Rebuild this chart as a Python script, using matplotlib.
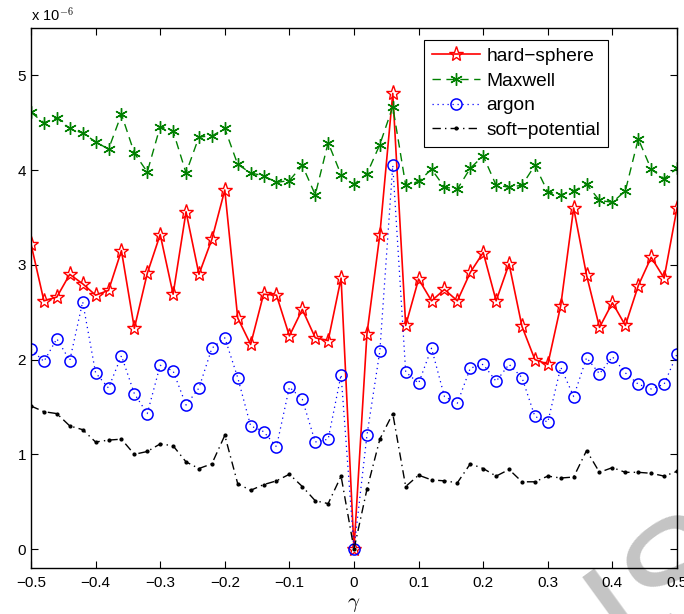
import matplotlib
matplotlib.use("Agg")
import matplotlib.pyplot as plt
import numpy as np

# collision parameter gamma, step 0.02
gamma = np.round(np.arange(-0.5, 0.5001, 0.02), 2)

# errors in units of 1e-6
hard_sphere = [3.22, 2.62, 2.66, 2.90, 2.80, 2.68, 2.73, 3.15, 2.33, 2.91,
               3.32, 2.69, 3.56, 2.90, 3.27, 3.79, 2.44, 2.16, 2.69, 2.68,
               2.25, 2.53, 2.23, 2.20, 2.86, 0.00, 2.27, 3.32, 4.81, 2.36,
               2.85, 2.62, 2.74, 2.62, 2.92, 3.13, 2.62, 3.01, 2.35, 2.00,
               1.95, 2.57, 3.60, 2.89, 2.34, 2.60, 2.36, 2.78, 3.08, 2.86,
               3.60]
maxwell = [4.61, 4.50, 4.55, 4.44, 4.39, 4.30, 4.22, 4.59, 4.18, 3.98,
           4.46, 4.41, 3.97, 4.35, 4.36, 4.44, 4.06, 3.97, 3.94, 3.87,
           3.89, 4.05, 3.74, 4.29, 3.95, 3.85, 3.96, 4.27, 4.67, 3.84,
           3.88, 4.01, 3.82, 3.80, 4.02, 4.15, 3.84, 3.82, 3.84, 4.05,
           3.77, 3.74, 3.78, 3.85, 3.68, 3.66, 3.78, 4.33, 4.01, 3.91,
           4.02]
argon = [2.11, 1.98, 2.22, 1.99, 2.61, 1.86, 1.70, 2.04, 1.64, 1.43,
         1.94, 1.88, 1.52, 1.70, 2.12, 2.23, 1.81, 1.30, 1.24, 1.08,
         1.71, 1.58, 1.13, 1.16, 1.84, 0.00, 1.20, 2.09, 4.05, 1.87,
         1.75, 2.12, 1.61, 1.54, 1.91, 1.95, 1.77, 1.95, 1.81, 1.40,
         1.34, 1.92, 1.61, 2.02, 1.85, 2.03, 1.86, 1.74, 1.69, 1.74,
         2.06]
soft_potential = [1.51, 1.45, 1.43, 1.30, 1.26, 1.13, 1.15, 1.16, 1.00, 1.03,
                  1.11, 1.09, 0.92, 0.85, 0.90, 1.20, 0.69, 0.62, 0.68, 0.72,
                  0.79, 0.66, 0.51, 0.48, 0.77, 0.00, 0.63, 1.16, 1.43, 0.66,
                  0.78, 0.73, 0.72, 0.70, 0.90, 0.85, 0.77, 0.84, 0.71, 0.71,
                  0.77, 0.75, 0.76, 1.04, 0.81, 0.86, 0.81, 0.81, 0.80, 0.77,
                  0.82]

xticks = [-0.5, -0.4, -0.3, -0.2, -0.1, 0, 0.1, 0.2, 0.3, 0.4, 0.5]
xticklabels = ["\u22120.5", "\u22120.4", "\u22120.3", "\u22120.2", "\u22120.1",
               "0", "0.1", "0.2", "0.3", "0.4", "0.5"]
yticks = [0, 1, 2, 3, 4, 5]

plt.rcParams['font.family'] = ['Liberation Sans', 'DejaVu Sans']
plt.rcParams['mathtext.fontset'] = 'cm'

fig = plt.figure(figsize=(6.84, 6.14), dpi=100)
ax = fig.add_axes((0.0453, 0.0749, 0.9445, 0.8795))
ax.set_facecolor('none')

ax.plot(gamma, hard_sphere, color='red', lw=1.2, linestyle='-',
        marker='*', ms=11, mfc='none', mec='red', mew=1.0, label='hard\u2212sphere')
ax.plot(gamma, maxwell, color=(0, 0.5, 0), lw=1.0, linestyle=(0, (6, 4)),
        marker=(6, 2, 0), ms=9, mew=1.0, label='Maxwell')
ax.plot(gamma, argon, color='blue', lw=0.9, linestyle=(0, (1, 3)),
        marker='o', ms=8, mfc='none', mec='blue', mew=1.1, label='argon')
ax.plot(gamma, soft_potential, color='black', lw=1.0, linestyle=(0, (6, 3, 1, 3)),
        marker='.', ms=4, label='soft\u2212potential')

ax.set_xlim(-0.5, 0.5)
ax.set_ylim(-0.2, 5.5)
ax.set_xticks(xticks)
ax.set_xticklabels(xticklabels)
ax.set_yticks(yticks)
ax.tick_params(direction='in', top=True, right=True, labelsize=11, length=5, width=0.8)
ax.tick_params(axis='x', pad=6)
for s in ax.spines.values():
    s.set_linewidth(1.0)

ax.text(0.0, 1.008, r"x 10$^{\mathsf{-6}}$", transform=ax.transAxes,
        fontsize=10.5, ha='left', va='bottom')
ax.set_xlabel(r"$\gamma$", fontsize=15, labelpad=3)

leg = ax.legend(loc='upper right', bbox_to_anchor=(0.893, 0.978), borderaxespad=0,
                fontsize=13.8, fancybox=False, framealpha=1, edgecolor='black',
                handlelength=2.5, borderpad=0.4, labelspacing=0.38, handletextpad=0.35)
leg.get_frame().set_linewidth(0.8)

# grey stamp in the lower right corner, behind the axes
fig.text(0.977, 0.042, "IS", fontsize=115, color='#c4c4c4',
         rotation=36, ha='center', va='center', zorder=-1)

fig.savefig("out.png", dpi=100)
